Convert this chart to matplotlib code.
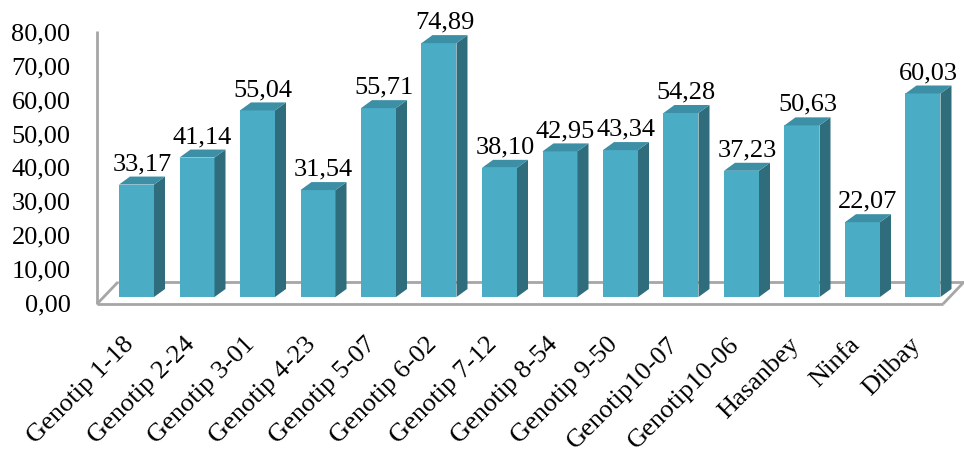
import matplotlib
matplotlib.use("Agg")
import matplotlib.pyplot as plt
from matplotlib.transforms import ScaledTranslation

categories = ["Genotip 1-18", "Genotip 2-24", "Genotip 3-01", "Genotip 4-23",
              "Genotip 5-07", "Genotip 6-02", "Genotip 7-12", "Genotip 8-54",
              "Genotip 9-50", "Genotip10-07", "Genotip10-06", "Hasanbey",
              "Ninfa", "Dilbay"]
values = [33.17, 41.14, 55.04, 31.54, 55.71, 74.89, 38.10, 42.95,
          43.34, 54.28, 37.23, 50.63, 22.07, 60.03]
yticks = [0, 10, 20, 30, 40, 50, 60, 70, 80]

plt.rcParams['font.family'] = ['Liberation Serif', 'DejaVu Serif']

W, H, DPI = 964, 452, 100
fig = plt.figure(figsize=(W / DPI, H / DPI), dpi=DPI)

# pixel geometry helpers
X0, XS = 136.5, 60.5     # pixel x of first bar center, pixels per category
Y0, YS = 298.0, 3.39     # pixel y of baseline, pixels per unit


def dx(px):
    return (px - X0) / XS


def dy(py):
    return (Y0 - py) / YS


ax_left, ax_bottom_px = 97, 305
ax = fig.add_axes([ax_left / W, (H - ax_bottom_px) / H, (W - ax_left) / W, ax_bottom_px / H])
ax.set_xlim(dx(ax_left), dx(W))
ax.set_ylim(dy(ax_bottom_px), dy(0))
for s in ax.spines.values():
    s.set_visible(False)

line_kw = dict(color='#A6A6A6', lw=2.0, zorder=1, clip_on=False, solid_capstyle='butt')
# left wall edge
ax.plot([dx(97), dx(97)], [dy(305), dy(32)], **line_kw)
# floor
ax.plot([dx(97), dx(943)], [dy(305), dy(305)], **line_kw)
ax.plot([dx(118), dx(964)], [dy(283), dy(283)], **line_kw)
ax.plot([dx(97), dx(118)], [dy(305), dy(283)], **line_kw)
ax.plot([dx(943), dx(964)], [dy(305), dy(283)], **line_kw)

front = '#4BACC6'
side = '#2F6D7D'
top = '#3C8FA5'
bw = 35 / XS
ddx = 11 / XS
ddy = 8 / YS

xs = list(range(len(categories)))
ax.bar(xs, values, width=bw, color=front, zorder=3, linewidth=0)
for x, v in zip(xs, values):
    xl, xr = x - bw / 2, x + bw / 2
    ax.fill([xr, xr + ddx, xr + ddx, xr], [0, ddy, v + ddy, v], color=side, zorder=3, lw=0)
    ax.fill([xl, xl + ddx, xr + ddx, xr], [v, v + ddy, v + ddy, v], color=top, zorder=3, lw=0)
    ax.annotate(f"{v:.2f}".replace('.', ','), (x + ddx / 2, v), xytext=(0, 7.5),
                textcoords='offset points', ha='center', va='bottom', fontsize=19, zorder=4)

ax.set_yticks(yticks)
ax.set_yticklabels([f"{t:.2f}".replace('.', ',') for t in yticks], fontsize=19)
ax.tick_params(axis='y', length=0, pad=19)
off_y = ScaledTranslation(0, -5 / DPI, fig.dpi_scale_trans)
for lab in ax.get_yticklabels():
    lab.set_transform(lab.get_transform() + off_y)

ax.set_xticks(xs)
ax.set_xticklabels(categories, fontsize=19, rotation=45, ha='right', va='center',
                   rotation_mode='anchor')
ax.tick_params(axis='x', length=0, pad=26)
off_x = ScaledTranslation(-6 / DPI, 0, fig.dpi_scale_trans)
for lab in ax.get_xticklabels():
    lab.set_transform(lab.get_transform() + off_x)

fig.savefig("out.png", dpi=DPI)
